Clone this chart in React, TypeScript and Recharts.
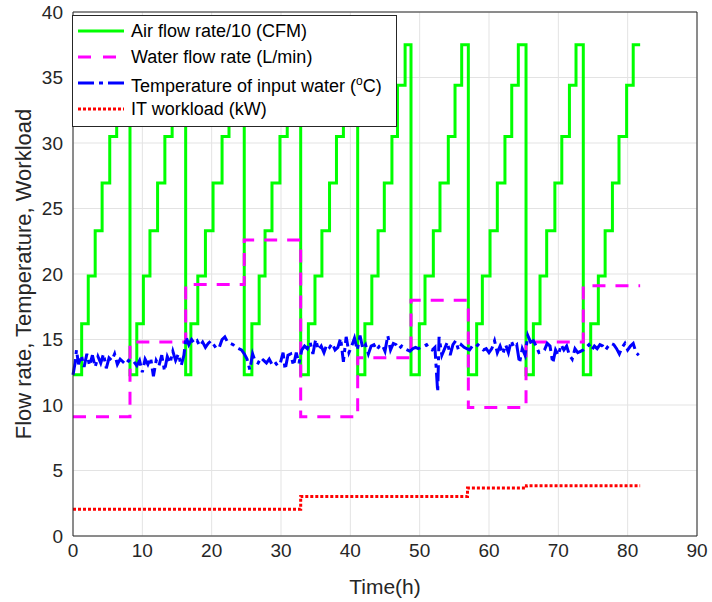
import React from "react";
import { LineChart, Line, XAxis, YAxis, CartesianGrid, Legend } from "recharts";

const FONT = '"Liberation Sans", Arial, Helvetica, sans-serif';
const AXIS = "#262626";

const xTicks = [0, 10, 20, 30, 40, 50, 60, 70, 80, 90];
const yTicks = [0, 5, 10, 15, 20, 25, 30, 35, 40];

// air flow rate / 10 (CFM), step changes: time (h) -> new level
const airTimes = [
  0, 1.25, 2.2, 3.2, 4.2, 5.3, 6.3, 7.25,
  8.22, 9.2, 10.15, 11.1, 12.2, 13.25, 14.3, 15.3,
  16.25, 17.0, 18.0, 19.1, 20.2, 21.5, 22.5, 23.6,
  24.7, 25.8, 26.85, 27.7, 28.7, 29.85, 30.9, 31.9,
  32.84, 33.95, 34.9, 35.9, 37.0, 38.0, 39.0, 40.0,
  41.06, 42.1, 43.1, 44.0, 44.9, 46.0, 46.8, 47.9,
  48.75, 49.95, 50.77, 51.97, 52.93, 54.13, 55.1, 56.06,
  57.02, 58.22, 59.04, 60.15, 61.2, 62.3, 63.28, 64.23,
  65.34, 66.4, 67.36, 68.32, 69.5, 70.5, 71.6, 72.55,
  73.6, 74.67, 75.77, 76.75, 77.8, 78.75, 79.85, 80.8, 81.8,
];
const airLevels = [
  12.3, 16.2, 19.85, 23.3, 26.95, 30.5, 34.4, 37.5,
  12.3, 16.2, 19.85, 23.3, 26.95, 30.5, 34.4, 37.5,
  12.3, 16.2, 19.85, 23.3, 26.95, 30.5, 34.4, 37.5,
  12.3, 16.2, 19.85, 23.3, 26.95, 30.5, 34.4, 37.5,
  12.3, 16.2, 19.85, 23.3, 26.95, 30.5, 34.4, 37.5,
  12.3, 16.2, 19.85, 23.3, 26.95, 30.5, 34.4, 37.5,
  12.3, 16.2, 19.85, 23.3, 26.95, 30.5, 34.4, 37.5,
  12.3, 16.2, 19.85, 23.3, 26.95, 30.5, 34.4, 37.5,
  12.3, 16.2, 19.85, 23.3, 26.95, 30.5, 34.4, 37.5,
  12.3, 16.2, 19.85, 23.3, 26.95, 30.5, 34.4, 37.5, 37.5,
];

// water flow rate (L/min)
const waterTimes = [0, 8.22, 16.25, 24.7, 32.84, 41.06, 48.75, 57.02, 65.34, 73.6, 81.8];
const waterLevels = [9.1, 14.8, 19.2, 22.6, 9.1, 13.6, 18.0, 9.8, 14.8, 19.1, 19.1];

// IT workload (kW)
const loadTimes = [0, 32.84, 56.9, 65.4, 81.8];
const loadLevels = [2.05, 3.02, 3.66, 3.84, 3.84];

// temperature of input water (oC)
const tempTimes = [
  0, 0.3, 0.5, 0.8, 1.2, 1.6, 2.0, 2.4, 2.8, 3.2, 3.6, 4.0, 4.4, 4.8, 5.2, 5.6, 6.0, 6.4, 6.8, 7.2, 7.6,
  8.0, 8.4, 8.8, 9.2, 9.6, 10.0, 10.4, 10.8, 11.2, 11.6, 12.0, 12.4, 12.8, 13.2, 13.6, 14.0, 14.4, 14.8,
  15.2, 15.6, 16.0, 16.3, 16.7, 17.1, 17.5, 17.9, 18.3, 18.7, 19.1, 19.5, 19.9, 20.3, 20.7, 21.1, 21.5,
  21.9, 22.3, 22.7, 23.1, 23.5, 23.9, 24.3, 24.7, 25.1, 25.5, 25.9, 26.3, 26.7, 27.1, 27.5, 27.9, 28.3,
  28.7, 29.1, 29.5, 29.9, 30.3, 30.6, 31.0, 31.4, 31.8, 32.2, 32.6, 33.0, 33.4, 33.8, 34.2, 34.6, 35.0,
  35.4, 35.8, 36.2, 36.6, 37.0, 37.4, 37.8, 38.2, 38.6, 39.0, 39.4, 39.8, 40.2, 40.6, 41.0, 41.4, 41.8,
  42.2, 42.6, 43.0, 43.4, 43.8, 44.2, 44.6, 45.0, 45.4, 45.8, 46.2, 46.6, 47.0, 47.4, 47.8, 48.2, 48.6,
  49.0, 49.4, 49.8, 50.2, 50.6, 51.0, 51.4, 51.8, 52.2, 52.6, 52.8, 53.2, 53.6, 54.0, 54.4, 54.8, 55.2,
  55.6, 56.0, 56.4, 56.8, 57.2, 57.6, 58.0, 58.4, 58.8, 59.2, 59.6, 60.0, 60.4, 60.8, 61.2, 61.6, 62.0,
  62.4, 62.8, 63.2, 63.6, 64.0, 64.4, 64.8, 65.2, 65.6, 66.0, 66.4, 66.8, 67.2, 67.6, 68.0, 68.4, 68.8,
  69.2, 69.6, 70.0, 70.4, 70.8, 71.2, 71.6, 72.0, 72.4, 72.8, 73.2, 73.6, 74.0, 74.4, 74.8, 75.2, 75.6,
  76.0, 76.4, 76.8, 77.2, 77.6, 78.0, 78.4, 78.8, 79.2, 79.6, 80.0, 80.4, 80.8, 81.2, 81.6,
];
const tempValues = [
  12.3, 13.2, 14.2, 13.1, 13.8, 12.9, 13.9, 13.0, 13.8, 12.9, 13.7, 13.2, 13.9, 12.8, 13.6, 13.4, 13.9, 13.1, 13.5, 13.3, 13.1,
  13.4, 13.2, 13.3, 13.0, 13.4, 12.5, 13.5, 13.1, 13.6, 12.2, 13.4, 13.0, 13.8, 12.6, 13.7, 13.2, 14.1, 13.4,
  13.9, 13.0, 13.8, 15.2, 14.6, 15.0, 14.7, 14.9, 14.5, 14.8, 14.4, 14.7, 14.9, 14.6, 14.3, 14.4, 15.0,
  15.2, 14.8, 14.7, 14.6, 14.4, 14.3, 14.2, 13.9, 13.5, 12.7, 13.9, 13.3, 13.2, 13.6, 13.4, 13.2, 13.5,
  13.1, 13.3, 13.0, 13.2, 14.0, 12.7, 13.8, 13.9, 13.0, 14.0, 13.2, 14.2, 14.5, 14.3, 14.8, 13.9, 15.0,
  14.2, 14.5, 14.0, 14.6, 14.4, 14.7, 14.2, 14.4, 15.1, 13.3, 15.2, 14.0, 14.5, 15.1, 14.2, 15.3, 14.3,
  14.6, 13.9, 14.5, 14.6, 14.2, 14.5, 14.6, 14.1, 15.3, 14.2, 14.7, 14.6, 14.3, 14.5, 14.3, 14.2, 14.1,
  14.3, 14.4, 14.3, 14.4, 14.5, 14.6, 14.3, 14.2, 14.4, 11.0, 15.2, 13.8, 14.3, 14.8, 13.8, 14.6, 14.9,
  14.2, 14.6, 14.4, 14.3, 14.2, 14.5, 14.4, 14.6, 14.4, 14.2, 14.3, 14.0, 14.3, 14.9, 14.0, 14.5, 13.9,
  14.6, 14.0, 14.9, 14.4, 14.6, 13.2, 14.3, 13.8, 15.3, 14.8, 14.9, 14.5, 14.0, 14.1, 14.2, 14.7, 14.5,
  13.2, 14.2, 13.8, 14.6, 14.2, 14.5, 13.8, 13.5, 14.3, 14.0, 14.1, 14.2, 14.4, 14.6, 14.2, 14.5, 14.3,
  14.6, 14.5, 14.2, 14.5, 14.7, 14.6, 14.3, 13.9, 14.4, 14.7, 14.2, 14.5, 14.7, 14.0, 13.8,
];

const zip = (ts: number[], vs: number[]) => ts.map((t, i) => ({ t, v: vs[i] }));

const airData = zip(airTimes, airLevels);
const waterData = zip(waterTimes, waterLevels);
const tempData = zip(tempTimes, tempValues);
const loadData = zip(loadTimes, loadLevels);

const series = [
  { key: "air", color: "#00ff00", dash: undefined, label: <>Air flow rate/10 (CFM)</> },
  { key: "water", color: "#ff00ff", dash: "13 12", label: <>Water flow rate (L/min)</> },
  { key: "temp", color: "#0000ff", dash: "16 5 4 5", label: <>Temperature of input water (<sup style={{ fontSize: 12 }}>o</sup>C)</> },
  { key: "load", color: "#ff0000", dash: "3 2", label: <>IT workload (kW)</> },
];

const LegendBox = () => (
  <div
    style={{
      background: "#fff",
      border: `1px solid ${AXIS}`,
      boxSizing: "border-box",
      width: 325,
      height: 112,
      paddingTop: 2,
      paddingLeft: 4,
      fontFamily: FONT,
      fontSize: 18,
      color: "#000",
    }}
  >
    {series.map((s) => (
      <div key={s.key} style={{ display: "flex", alignItems: "center", height: 26, whiteSpace: "nowrap" }}>
        <svg width={48} height={10}>
          <line x1={1} y1={5} x2={47} y2={5} stroke={s.color} strokeWidth={3} strokeDasharray={s.dash} />
        </svg>
        <span style={{ marginLeft: 6, lineHeight: "20px" }}>{s.label}</span>
      </div>
    ))}
  </div>
);

const tickStyle = { fontSize: 19, fill: AXIS, fontFamily: FONT };

export default function App() {
  return (
    <div style={{ position: "absolute", left: 0, top: 0, background: "#fff" }}>
      <LineChart width={712} height={602} margin={{ top: 12, right: 15, bottom: 0, left: 0 }}>
        <CartesianGrid stroke="#e3e3e3" strokeWidth={1} />
        <XAxis
          dataKey="t"
          type="number"
          domain={[0, 90]}
          ticks={xTicks}
          interval={0}
          height={66}
          tickLine={false}
          tickSize={0}
          tickMargin={8}
          axisLine={{ stroke: AXIS }}
          tick={tickStyle}
          label={{ value: "Time(h)", position: "insideBottom", offset: 8, style: { fontSize: 21, fill: AXIS, fontFamily: FONT } }}
        />
        <XAxis xAxisId="in" dataKey="t" type="number" domain={[0, 90]} ticks={xTicks} orientation="bottom" mirror tick={false} tickSize={7} tickLine={{ stroke: AXIS }} axisLine={false} />
        <XAxis xAxisId="top" dataKey="t" type="number" domain={[0, 90]} ticks={xTicks} orientation="top" mirror tick={false} tickSize={7} tickLine={{ stroke: AXIS }} axisLine={{ stroke: AXIS }} />
        <YAxis
          type="number"
          domain={[0, 40]}
          ticks={yTicks}
          interval={0}
          width={73}
          tickLine={false}
          tickSize={0}
          tickMargin={10}
          axisLine={{ stroke: AXIS }}
          tick={tickStyle}
          label={{
            value: "Flow rate, Temperature, Workload",
            angle: -90,
            position: "insideLeft",
            offset: 23,
            style: { textAnchor: "middle", fontSize: 22, fill: AXIS, fontFamily: FONT },
          }}
        />
        <YAxis yAxisId="in" type="number" domain={[0, 40]} ticks={yTicks} orientation="left" mirror tick={false} tickSize={7} tickLine={{ stroke: AXIS }} axisLine={false} />
        <YAxis yAxisId="right" type="number" domain={[0, 40]} ticks={yTicks} orientation="right" mirror tick={false} tickSize={7} tickLine={{ stroke: AXIS }} axisLine={{ stroke: AXIS }} />
        <Legend
          layout="vertical"
          align="center"
          verticalAlign="middle"
          content={<LegendBox />}
          wrapperStyle={{ left: 72, top: 15, width: 325, height: 112, zIndex: 10 }}
        />
        <Line data={airData} dataKey="v" name="air" type="stepAfter" stroke="#00ff00" strokeWidth={3} dot={false} isAnimationActive={false} />
        <Line data={waterData} dataKey="v" name="water" type="stepAfter" stroke="#ff00ff" strokeWidth={3} strokeDasharray="13 10" dot={false} isAnimationActive={false} />
        <Line data={tempData} dataKey="v" name="temp" type="linear" stroke="#0000ff" strokeWidth={3} strokeDasharray="16 5 4 5" dot={false} isAnimationActive={false} />
        <Line data={loadData} dataKey="v" name="load" type="stepAfter" stroke="#ff0000" strokeWidth={3} strokeDasharray="3 2" dot={false} isAnimationActive={false} />
      </LineChart>
    </div>
  );
}
